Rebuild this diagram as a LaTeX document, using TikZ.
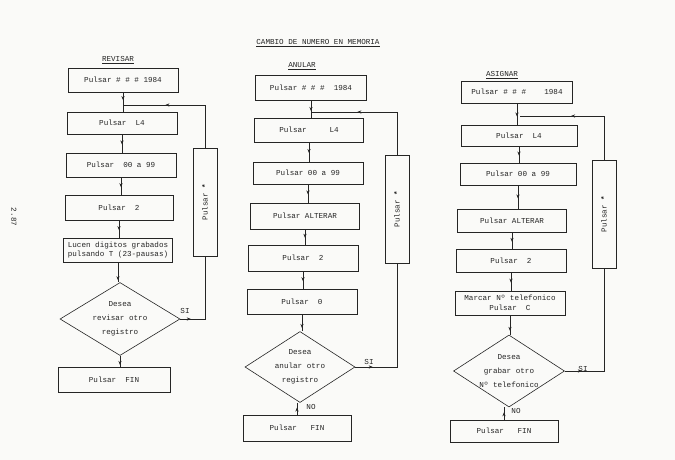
\documentclass[tikz,border=0pt]{standalone}
\usepackage{fontspec}
\setmonofont{Liberation Mono}
\usetikzlibrary{shapes.geometric,arrows.meta,decorations.markings}
\definecolor{ink}{HTML}{252525}
\definecolor{paper}{HTML}{FAFAF8}
\begin{document}
\begin{tikzpicture}[x=1pt,y=-1pt,
  font=\ttfamily\fontsize{7.6}{9.5}\selectfont,
  box/.style={draw=ink, line width=0.6pt, minimum height=24, minimum width=110, inner sep=1pt, align=center, text=ink},
  vbox/.style={draw=ink, line width=0.6pt, minimum width=24, minimum height=108, inner sep=0pt, text=ink},
  dec/.style={draw=ink, line width=0.6pt, diamond, inner sep=0pt},
  dectext/.style={align=center, text=ink, inner sep=0pt, font=\ttfamily\fontsize{7.6}{14}\selectfont},
  flow/.style={draw=ink, line width=0.6pt, postaction={decorate},
    decoration={markings, mark=at position #1 with {\arrow{Stealth[length=4pt,width=3.2pt]}}}},
  flow/.default=0.55,
  lbl/.style={text=ink, inner sep=1pt}
]
\fill[paper] (0,0) rectangle (675,460);
\useasboundingbox (0,0) rectangle (675,460);

% titles
\node[lbl] (title) at (318,43) {\underline{CAMBIO DE NUMERO EN MEMORIA}};
\node[lbl] (t1) at (118,60) {\underline{REVISAR}};
\node[lbl] (t2) at (302,66) {\underline{ANULAR}};
\node[lbl] (t3) at (502,75) {\underline{ASIGNAR}};
\node[lbl, rotate=-90] (pg) at (14,217) {2.87};

% ---------------- REVISAR ----------------
\node[box] (r1) at (123,80) {Pulsar \# \# \# 1984};
\node[box, minimum height=22] (r2) at (122,123) {Pulsar\ \ L4};
\node[box] (r3) at (121,165) {Pulsar\ \ 00 a 99};
\node[box, minimum width=108, minimum height=25] (r4) at (119,208) {Pulsar\ \ 2};
\node[box, minimum width=109, inner sep=0pt] (r5) at (118,250) {Lucen digitos grabados\\pulsando T (23-pausas)};
\node[dec, minimum width=120, minimum height=73] (d1) at (120,319) {};
\node[dectext] (d1t) at (d1.center) {Desea\\revisar otro\\registro};
\node[box, minimum width=112, minimum height=25] (f1) at (114,380) {Pulsar\ \ FIN};
\node[vbox] (v1) at (205,202) {};
\node[lbl, rotate=90] (v1t) at (v1.center) {Pulsar \textbf{*}};
\node[lbl] (si1) at (185,311) {SI};

\coordinate (j1) at (123,105);
\coordinate (c1a) at (205,319);
\coordinate (c1b) at (205,105);
\draw[flow=0.4] (r1.south) -- (r1.south |- r2.north);
\draw[flow] (r2.south) -- (r2.south |- r3.north);
\draw[flow] (r3.south) -- (r3.south |- r4.north);
\draw[flow] (r4.south) -- (r4.south |- r5.north);
\draw[flow=0.9] (r5.south) -- (r5.south |- d1.north);
\draw[flow=0.8] (d1.south) -- (d1.south |- f1.north);
\draw[flow=0.12] (d1.east) -- (c1a) -- (v1.south);
\draw[flow=0.66] (v1.north) -- (c1b) -- (j1);

% ---------------- ANULAR ----------------
\node[box, minimum width=111, minimum height=25] (a1) at (311,88) {Pulsar \# \# \#\ \ 1984};
\node[box, minimum width=109] (a2) at (309,130) {Pulsar\ \ \ \ \ L4};
\node[box, minimum height=22] (a3) at (308,173) {Pulsar 00 a 99};
\node[box, minimum width=109, minimum height=26] (a4) at (305,216) {Pulsar ALTERAR};
\node[box, minimum height=26] (a5) at (303,258) {Pulsar\ \ 2};
\node[box, minimum height=25] (a6) at (302,302) {Pulsar\ \ 0};
\node[dec, minimum width=110, minimum height=71] (d2) at (300,367) {};
\node[dectext] (d2t) at (d2.center) {Desea\\anular otro\\registro};
\node[box, minimum width=108, minimum height=26] (f2) at (297,428) {Pulsar\ \ \ FIN};
\node[vbox] (v2) at (397,209) {};
\node[lbl, rotate=90] (v2t) at (v2.center) {Pulsar \textbf{*}};
\node[lbl] (si2) at (369,362) {SI};
\node[lbl] (no2) at (311,407) {NO};

\coordinate (j2) at (311,112);
\coordinate (c2a) at (397,367);
\coordinate (c2b) at (397,112);
\draw[flow=0.6] (a1.south) -- (a1.south |- a2.north);
\draw[flow] (a2.south) -- (a2.south |- a3.north);
\draw[flow] (a3.south) -- (a3.south |- a4.north);
\draw[flow] (a4.south) -- (a4.south |- a5.north);
\draw[flow] (a5.south) -- (a5.south |- a6.north);
\draw[flow=0.8] (a6.south) -- (a6.south |- d2.north);
\draw[flow=0.6] (f2.north) -- (f2.north |- d2.south);
\draw[flow=0.12] (d2.east) -- (c2a) -- (v2.south);
\draw[flow=0.64] (v2.north) -- (c2b) -- (j2);

% ---------------- ASIGNAR ----------------
\node[box, minimum width=111, minimum height=22] (s1) at (517,92) {Pulsar \# \# \#\ \ \ \ 1984};
\node[box, minimum width=116, minimum height=21] (s2) at (519,136) {Pulsar\ \ L4};
\node[box, minimum width=116, minimum height=22] (s3) at (518,174) {Pulsar 00 a 99};
\node[box, minimum width=109, minimum height=23] (s4) at (512,221) {Pulsar ALTERAR};
\node[box, minimum height=23] (s5) at (511,261) {Pulsar\ \ 2};
\node[box, minimum height=24, inner sep=0pt] (s6) at (510,303) {Marcar Nº telefonico\\Pulsar\ \ C};
\node[dec, minimum width=111, minimum height=72] (d3) at (509,371) {};
\node[dectext] (d3t) at (d3.center) {Desea\\grabar otro\\Nº telefonico};
\node[box, minimum width=108, minimum height=22] (f3) at (504,431) {Pulsar\ \ \ FIN};
\node[vbox] (v3) at (604,214) {};
\node[lbl, rotate=90] (v3t) at (v3.center) {Pulsar \textbf{*}};
\node[lbl] (si3) at (583,369) {SI};
\node[lbl] (no3) at (516,411) {NO};

\coordinate (j3) at (520,116);
\coordinate (c3a) at (604,371);
\coordinate (c3b) at (604,116);
\draw[flow=0.6] (s1.south) -- (s1.south |- s2.north);
\draw[flow] (s2.south) -- (s2.south |- s3.north);
\draw[flow] (s3.south) -- (s3.south |- s4.north);
\draw[flow] (s4.south) -- (s4.south |- s5.north);
\draw[flow] (s5.south) -- (s5.south |- s6.north);
\draw[flow=0.8] (s6.south) -- (s6.south |- d3.north);
\draw[flow=0.6] (f3.north) -- (f3.north |- d3.south);
\draw[flow=0.12] (d3.east) -- (c3a) -- (v3.south);
\draw[flow=0.6] (v3.north) -- (c3b) -- (j3);
\end{tikzpicture}
\end{document}
